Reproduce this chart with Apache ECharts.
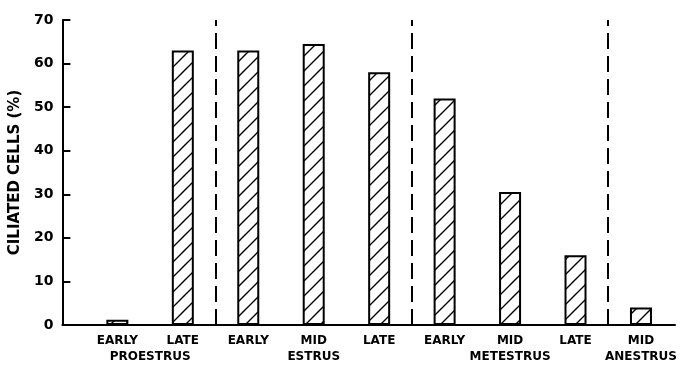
<!DOCTYPE html>
<html>
<head>
<meta charset="utf-8">
<script src="https://cdn.jsdelivr.net/npm/echarts@6/dist/echarts.min.js"></script>
<style>html,body{margin:0;padding:0;background:#fff}#c{width:696px;height:369px}</style>
</head>
<body>
<div id="c"></div>
<script>
const stages = ['EARLY', 'LATE', 'EARLY', 'MID', 'LATE', 'EARLY', 'MID', 'LATE', 'MID'];
const stagePositions = [0, 1, 2, 3, 4, 5, 6, 7, 8];
const phases = ['PROESTRUS', 'ESTRUS', 'METESTRUS', 'ANESTRUS'];
const phasePositions = [0.5, 3, 6, 8];
const ciliated = [1.2, 63, 63, 64.5, 58, 52, 30.5, 16, 4];
const separators = [1.5, 4.5, 7.5];
const yTicks = [0, 10, 20, 30, 40, 50, 60, 70];

function hatch() {
  const s = 15;
  const c = document.createElement('canvas');
  c.width = s; c.height = s;
  const g = c.getContext('2d');
  g.fillStyle = '#fff'; g.fillRect(0, 0, s, s);
  g.strokeStyle = '#000'; g.lineWidth = 1.4;
  g.beginPath();
  g.moveTo(-2, s + 2); g.lineTo(s + 2, -2);
  g.moveTo(-2, 2); g.lineTo(2, -2);
  g.moveTo(s - 2, s + 2); g.lineTo(s + 2, s - 2);
  g.stroke();
  return c;
}

const font = 'DejaVu Sans';
const chart = echarts.init(document.getElementById('c'), null, {renderer: 'canvas'});
chart.setOption({
  animation: false,
  backgroundColor: '#fff',
  grid: {left: 60, right: 21, top: 20, bottom: 44},
  xAxis: [{
    type: 'value', min: -0.84, max: 8.52,
    axisLine: {show: true, onZero: false, lineStyle: {color: '#000', width: 2}},
    axisTick: {show: false},
    splitLine: {show: false},
    axisLabel: {
      customValues: stagePositions,
      formatter: v => stages[Math.round(v)],
      fontFamily: font, fontWeight: 'bold', fontSize: 12, color: '#000', margin: 10
    }
  }, {
    type: 'value', min: -0.84, max: 8.52, position: 'bottom',
    axisLine: {show: false, onZero: false}, axisTick: {show: false}, splitLine: {show: false},
    axisLabel: {
      customValues: phasePositions,
      formatter: v => phases[phasePositions.indexOf(v)],
      fontFamily: font, fontWeight: 'bold', fontSize: 12, color: '#000', margin: 26
    }
  }],
  yAxis: {
    type: 'value', min: 0, max: 70, interval: 10,
    name: 'CILIATED CELLS (%)', nameLocation: 'middle', nameGap: 33,
    nameTextStyle: {fontFamily: font, fontWeight: 'bold', fontSize: 15, color: '#000'},
    axisLine: {show: true, onZero: false, lineStyle: {color: '#000', width: 2}},
    axisTick: {show: true, inside: true, length: 8, lineStyle: {color: '#000', width: 2}},
    splitLine: {show: false},
    axisLabel: {fontFamily: font, fontWeight: 'bold', fontSize: 14, color: '#000', margin: 9,
      formatter: v => yTicks.includes(v) ? String(v) : ''}
  },
  series: [{
    type: 'bar',
    barWidth: 22,
    data: ciliated.map((v, i) => [stagePositions[i], v]),
    itemStyle: {
      color: {image: hatch(), repeat: 'repeat'},
      borderColor: '#000', borderWidth: 2
    },
    markLine: {
      silent: true, symbol: 'none', label: {show: false},
      lineStyle: {color: '#000', width: 2, type: [16, 7]},
      data: separators.map(x => ({xAxis: x}))
    }
  }]
});
</script>
</body>
</html>
